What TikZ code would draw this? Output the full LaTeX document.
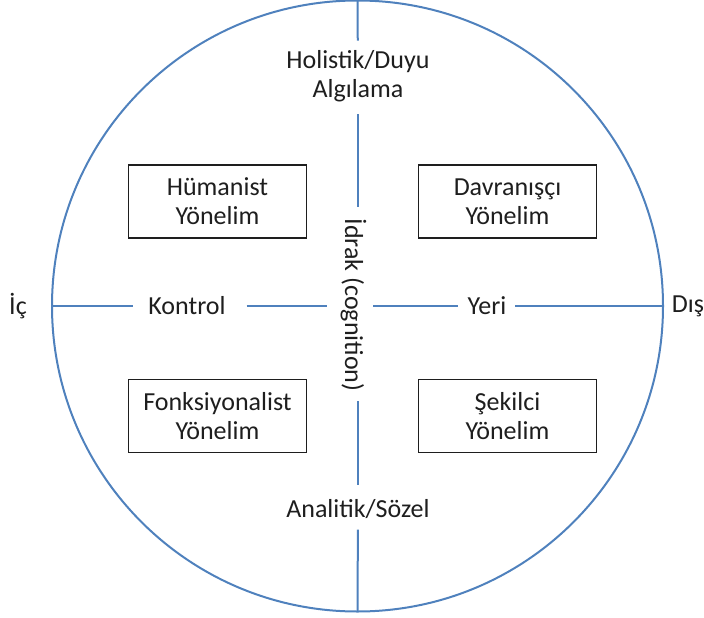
\documentclass[tikz,border=0pt]{standalone}
\usepackage{fontspec}
\setmainfont{Carlito}
\definecolor{axisblue}{RGB}{79,129,189}
\definecolor{inkgray}{RGB}{30,30,30}
\begin{document}
\begin{tikzpicture}[x=1pt,y=-1pt,
  every node/.style={text=inkgray, inner sep=0pt, outer sep=0pt},
  axis/.style={draw=axisblue, line width=2pt},
  lbl/.style={font=\fontsize{26}{29}\selectfont, align=center},
  orient/.style={draw=inkgray, line width=1.3pt, minimum width=178pt,
    minimum height=73pt, font=\fontsize{26}{29}\selectfont, align=center}]
\useasboundingbox (0,0) rectangle (704,618);

% outer ring
\node[circle, axis, minimum size=611pt] (ring) at (357.5,306) {};

% axis labels
\node[lbl] (holi) at (358,76.5) {Holistik/Duyu\\Algılama};
\node[lbl] (anal) at (358,509) {Analitik/Sözel};
\node[lbl, rotate=-90, anchor=base] (idrak) at (345,305) {İdrak (cognition)};
\node[lbl] (kontrol) at (187,306) {Kontrol};
\node[lbl] (yeri) at (487,306) {Yeri};
\node[lbl] (ic) at (18,306) {İç};
\node[lbl] (dis) at (688,306) {Dış};

% vertical axis
\draw[axis, shorten >=10pt] (ring.north) -- (holi);
\draw[axis, shorten <=12pt, shorten >=12pt] (holi) -- (holi |- idrak.west);
\draw[axis, shorten <=10pt, shorten >=14pt] (holi |- idrak.east) -- (anal);
\draw[axis, shorten <=11pt] (anal) -- (ring.south);

% horizontal axis
\draw[axis, shorten >=15pt] (ring.west) -- (kontrol);
\draw[axis, shorten <=21pt, shorten >=18pt] (kontrol) -- (kontrol -| idrak.base);
\draw[axis, shorten <=28pt, shorten >=10pt] (yeri -| idrak.base) -- (yeri);
\draw[axis, shorten <=9pt] (yeri) -- (ring.east);

% the four orientations
\node[orient] (hum) at (217.5,201.5) {Hümanist\\Yönelim};
\node[orient] (dav) at (507.5,201.5) {Davranışçı\\Yönelim};
\node[orient] (fonk) at (217.5,416) {Fonksiyonalist\\Yönelim};
\node[orient] (sek) at (507.5,416) {Şekilci\\Yönelim};
\end{tikzpicture}
\end{document}
